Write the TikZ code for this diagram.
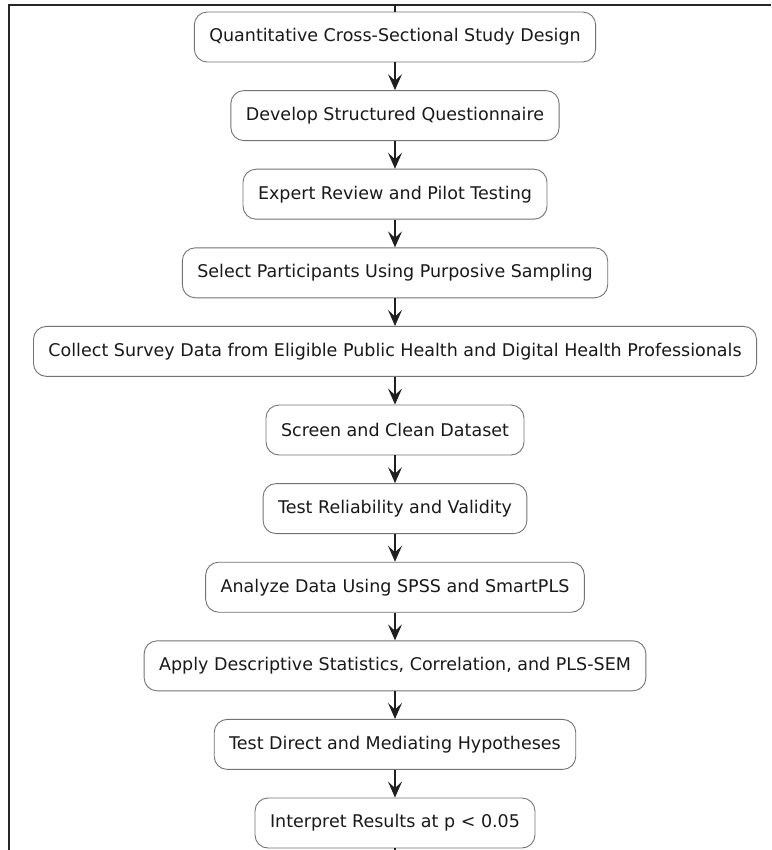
\documentclass[tikz,border=0pt]{standalone}
\usepackage{fontspec}
\setmainfont{DejaVu Sans}
\usetikzlibrary{arrows.meta}
\begin{document}
\begin{tikzpicture}[x=1pt,y=1pt,
  stepbox/.style={draw=black!55, line width=0.9pt, fill=white, rounded corners=13pt,
    minimum height=50pt, inner xsep=15pt, inner ysep=0pt, text=black!90,
    font=\fontsize{17.5}{20}\selectfont},
  flow/.style={draw=black!88, line width=1.1pt,
    -{Stealth[length=16pt, width=14pt, inset=6.5pt]}},
  plain/.style={draw=black!88, line width=1.1pt},
  frame/.style={draw=black!85, line width=2pt}]
\useasboundingbox (0,0) rectangle (771,-850);
% frame along the top and left edges
\draw[frame] (771,-5) -- (9,-5) -- (9,-850);
% activity steps
\def\cx{395}
\node[stepbox] (s1)  at (\cx,-37)    {Quantitative Cross-Sectional Study Design};
\node[stepbox] (s2)  at (\cx,-115.6) {Develop Structured Questionnaire};
\node[stepbox] (s3)  at (\cx,-194.2) {Expert Review and Pilot Testing};
\node[stepbox] (s4)  at (\cx,-272.8) {Select Participants Using Purposive Sampling};
\node[stepbox] (s5)  at (\cx,-351.4) {Collect Survey Data from Eligible Public Health and Digital Health Professionals};
\node[stepbox] (s6)  at (\cx,-430)   {Screen and Clean Dataset};
\node[stepbox] (s7)  at (\cx,-508.6) {Test Reliability and Validity};
\node[stepbox] (s8)  at (\cx,-587.2) {Analyze Data Using SPSS and SmartPLS};
\node[stepbox] (s9)  at (\cx,-665.8) {Apply Descriptive Statistics, Correlation, and PLS-SEM};
\node[stepbox] (s10) at (\cx,-744.4) {Test Direct and Mediating Hypotheses};
\node[stepbox] (s11) at (\cx,-823)   {Interpret Results at p < 0.05};
% incoming and outgoing flow ends
\coordinate (in)  at (\cx,-5);
\coordinate (out) at (\cx,-850);
\draw[plain] (in) -- (s1.north);
\draw[plain] (s11.south) -- (out);
% connectors between consecutive steps
\foreach \a/\b in {s1/s2,s2/s3,s3/s4,s4/s5,s5/s6,s6/s7,s7/s8,s8/s9,s9/s10,s10/s11}
  \draw[flow] (\a.south) -- (\b.north);
\end{tikzpicture}
\end{document}
